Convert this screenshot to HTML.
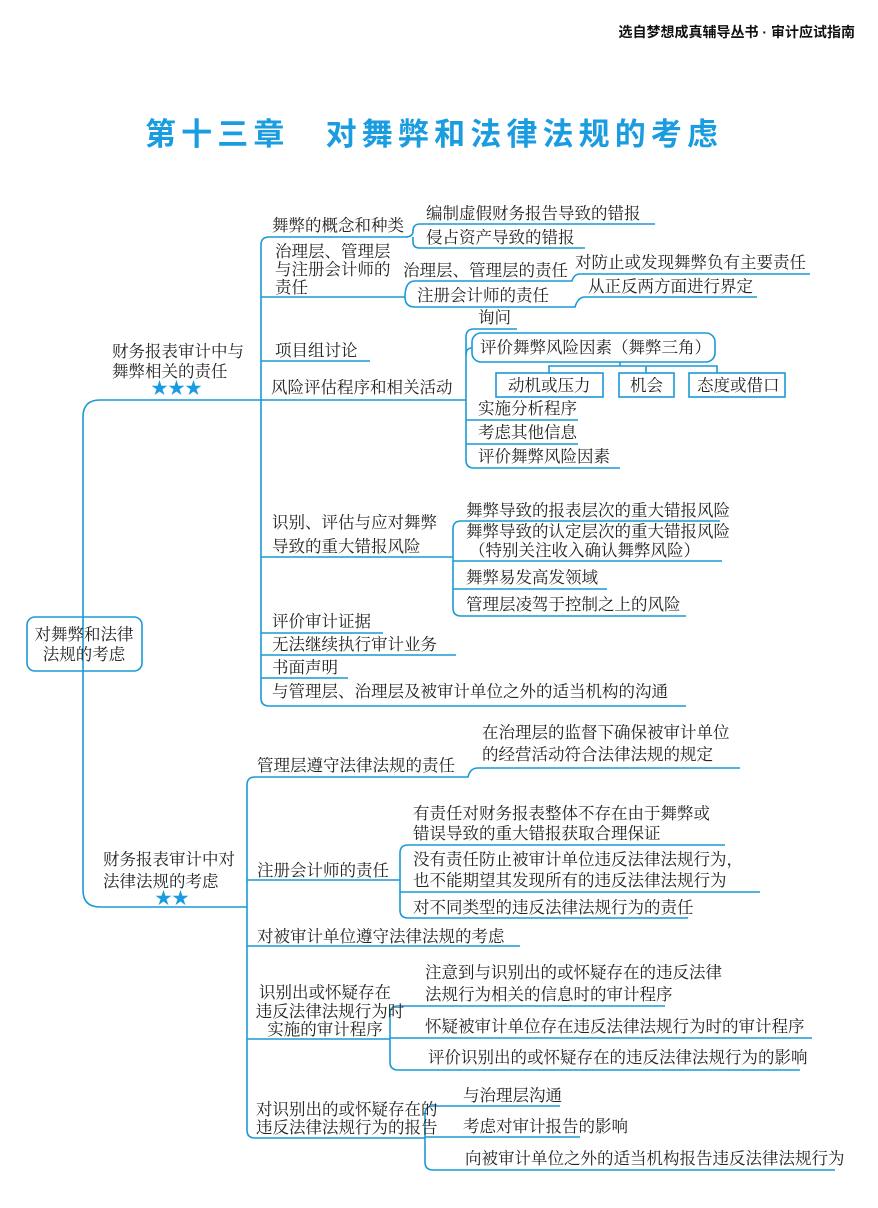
<!DOCTYPE html>
<html><head><meta charset="utf-8"><style>
html,body{margin:0;padding:0;background:#fff;}
svg{display:block;}
text{font-family:"Liberation Serif","Noto Serif CJK SC","Noto Sans CJK SC",serif;font-size:16.5px;fill:#222;}
.h{font-family:"Liberation Sans","Noto Sans CJK SC",sans-serif;font-weight:bold;font-size:14px;fill:#111;}
.t{font-family:"Liberation Sans","Noto Sans CJK SC",sans-serif;font-size:31px;font-weight:bold;fill:#1a9de0;}
.st{font-size:17px;fill:#1a9de0;}
</style></head><body>
<svg width="878" height="1208" viewBox="0 0 878 1208" xmlns="http://www.w3.org/2000/svg">
<text class="h" x="855" y="37" text-anchor="end">选自梦想成真辅导丛书 · 审计应试指南</text>
<text class="t" x="145" y="145" textLength="573">第十三章　对舞弊和法律法规的考虑</text>

<g fill="none" stroke="#1a9ad6" stroke-width="1.6">
<rect x="27" y="617" width="115" height="54" rx="8"/>
<path d="M100,400 Q83,400 83,417 L83,890 Q83,907 100,907"/>
<line x1="100" y1="400" x2="466" y2="400"/>
<line x1="100" y1="907" x2="247" y2="907"/>
<path d="M269,237 Q261,237 261,245 L261,698 Q261,706 269,706 L686,706"/>
<line x1="269" y1="237" x2="405" y2="237"/>
<line x1="261" y1="297" x2="405" y2="297"/>
<line x1="261" y1="361" x2="370" y2="361"/>
<line x1="261" y1="557" x2="453" y2="557"/>
<line x1="261" y1="633" x2="383" y2="633"/>
<line x1="261" y1="655" x2="456" y2="655"/>
<line x1="261" y1="678" x2="348" y2="678"/>
<path d="M405,237 Q413,237 413,231 Q413,224 420,224 L655,224"/>
<path d="M413,237 L413,242 Q413,248 420,248 L585,248"/>
<path d="M405,297 Q405,281 415,281 L572,281 Q574,274 580,274 L810,274"/>
<path d="M405,297 Q405,307 415,307 L575,307 Q578,297 585,297 L757,297"/>
<path d="M474,329 Q466,329 466,337 L466,460 Q466,468 474,468 L620,468"/>
<line x1="474" y1="329" x2="517" y2="329"/>
<path d="M466,355 Q466,348 472,348"/>
<line x1="466" y1="420" x2="578" y2="420"/>
<line x1="466" y1="444" x2="578" y2="444"/>
<rect x="472" y="333" width="243" height="29" rx="9"/>
<path d="M620,362 L620,366 M549,373 L549,366 L717,366 L717,373 M646,366 L646,373"/>
<rect x="496" y="373" width="107" height="24"/>
<rect x="619" y="373" width="55" height="24"/>
<rect x="689" y="373" width="96" height="24"/>
<path d="M453,557 L453,529 Q453,521 461,521 L720,521"/>
<path d="M453,557 L453,608 Q453,616 461,616 L686,616"/>
<line x1="453" y1="561" x2="722" y2="561"/>
<line x1="453" y1="589" x2="607" y2="589"/>
<path d="M255,777 Q247,777 247,785 L247,1130 Q247,1138 255,1138 L425,1138"/>
<path d="M255,777 L468,777 Q470,768 478,768 L740,768"/>
<line x1="247" y1="880" x2="400" y2="880"/>
<line x1="247" y1="946" x2="520" y2="946"/>
<line x1="247" y1="1039" x2="390" y2="1039"/>
<path d="M400,880 L400,853 Q400,845 408,845 L725,845"/>
<path d="M400,880 L400,910 Q400,918 408,918 L688,918"/>
<line x1="400" y1="892" x2="760" y2="892"/>
<path d="M390,1039 L390,1014 Q390,1006 398,1006 L665,1006"/>
<path d="M390,1039 L390,1062 Q390,1070 398,1070 L800,1070"/>
<line x1="390" y1="1038" x2="812" y2="1038"/>
<path d="M425,1138 L425,1114 Q425,1106 433,1106 L560,1106"/>
<path d="M425,1138 L425,1162 Q425,1170 433,1170 L835,1170"/>
<line x1="425" y1="1137" x2="580" y2="1137"/>
</g>

<text x="84" y="640" text-anchor="middle">对舞弊和法律</text>
<text x="84" y="660" text-anchor="middle">法规的考虑</text>

<text x="112" y="357">财务报表审计中与</text>
<text x="112" y="377">舞弊相关的责任</text>
<text class="st" x="151" y="394">★★★</text>

<text x="272" y="231">舞弊的概念和种类</text>
<text x="426" y="219">编制虚假财务报告导致的错报</text>
<text x="426" y="243">侵占资产导致的错报</text>
<text x="275" y="257">治理层、管理层</text>
<text x="275" y="275">与注册会计师的</text>
<text x="275" y="293">责任</text>
<text x="403" y="276">治理层、管理层的责任</text>
<text x="575" y="268">对防止或发现舞弊负有主要责任</text>
<text x="417" y="301">注册会计师的责任</text>
<text x="588" y="292">从正反两方面进行界定</text>
<text x="275" y="356">项目组讨论</text>
<text x="271" y="393">风险评估程序和相关活动</text>
<text x="478" y="323">询问</text>
<text x="480" y="353">评价舞弊风险因素（舞弊三角）</text>
<text x="508" y="391">动机或压力</text>
<text x="630" y="391">机会</text>
<text x="697" y="391">态度或借口</text>
<text x="478" y="414">实施分析程序</text>
<text x="478" y="438">考虑其他信息</text>
<text x="478" y="462">评价舞弊风险因素</text>
<text x="272" y="528">识别、评估与应对舞弊</text>
<text x="272" y="552">导致的重大错报风险</text>
<text x="466" y="516">舞弊导致的报表层次的重大错报风险</text>
<text x="466" y="537">舞弊导致的认定层次的重大错报风险</text>
<text x="469" y="556">（特别关注收入确认舞弊风险）</text>
<text x="466" y="583">舞弊易发高发领域</text>
<text x="466" y="610">管理层凌驾于控制之上的风险</text>
<text x="272" y="627">评价审计证据</text>
<text x="272" y="650">无法继续执行审计业务</text>
<text x="272" y="673">书面声明</text>
<text x="272" y="697">与管理层、治理层及被审计单位之外的适当机构的沟通</text>

<text x="103" y="865">财务报表审计中对</text>
<text x="103" y="887">法律法规的考虑</text>
<text class="st" x="155" y="904">★★</text>

<text x="257" y="771">管理层遵守法律法规的责任</text>
<text x="482" y="738">在治理层的监督下确保被审计单位</text>
<text x="482" y="760">的经营活动符合法律法规的规定</text>
<text x="257" y="876">注册会计师的责任</text>
<text x="413" y="819">有责任对财务报表整体不存在由于舞弊或</text>
<text x="413" y="839">错误导致的重大错报获取合理保证</text>
<text x="413" y="865">没有责任防止被审计单位违反法律法规行为，</text>
<text x="413" y="886">也不能期望其发现所有的违反法律法规行为</text>
<text x="413" y="913">对不同类型的违反法律法规行为的责任</text>
<text x="257" y="942">对被审计单位遵守法律法规的考虑</text>
<text x="325" y="998" text-anchor="middle">识别出或怀疑存在</text>
<text x="330" y="1017" text-anchor="middle">违反法律法规行为时</text>
<text x="325" y="1035" text-anchor="middle">实施的审计程序</text>
<text x="425" y="978">注意到与识别出的或怀疑存在的违反法律</text>
<text x="425" y="1000">法规行为相关的信息时的审计程序</text>
<text x="425" y="1032">怀疑被审计单位存在违反法律法规行为时的审计程序</text>
<text x="428" y="1063">评价识别出的或怀疑存在的违反法律法规行为的影响</text>
<text x="256" y="1115">对识别出的或怀疑存在的</text>
<text x="256" y="1133">违反法律法规行为的报告</text>
<text x="463" y="1101">与治理层沟通</text>
<text x="463" y="1132">考虑对审计报告的影响</text>
<text x="465" y="1164">向被审计单位之外的适当机构报告违反法律法规行为</text>
</svg>
</body></html>
